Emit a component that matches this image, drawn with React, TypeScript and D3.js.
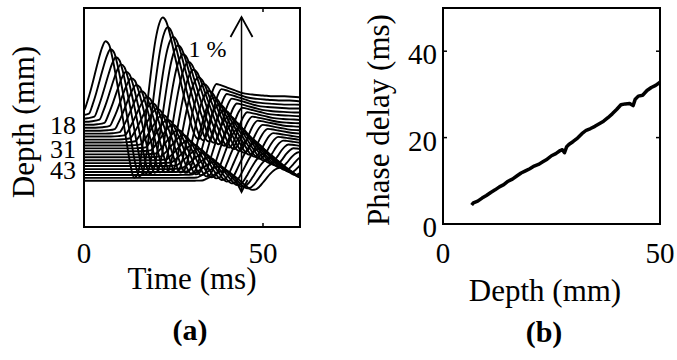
import * as d3 from 'd3';

// panel (a): template wave (top trace), time in ms, strain in %
const templateTime = [-40, -4, -2, 0, 1, 2, 3, 4, 5, 6, 7, 8, 9, 10, 11, 12, 13, 14, 15, 16, 17, 18, 19, 20,
  21, 22, 23, 24, 25, 26, 27, 28, 29, 30, 31, 32, 33, 34, 35, 36, 37, 38, 40, 42, 44, 47, 50, 53, 56, 60, 64, 70];
const templateStrain = [0, 0, 0.004, 0.015, 0.07, 0.14, 0.22, 0.30, 0.37, 0.41, 0.39, 0.31, 0.20, 0.08,
  -0.05, -0.18, -0.30, -0.37, -0.35, -0.24, -0.07, 0.11, 0.28, 0.42, 0.51, 0.545, 0.52, 0.45, 0.36, 0.27,
  0.18, 0.09, 0.01, -0.07, -0.13, -0.15, -0.11, -0.03, 0.06, 0.13, 0.165, 0.16, 0.145, 0.13, 0.115,
  0.105, 0.10, 0.095, 0.095, 0.09, 0.09, 0.09];

// one entry per trace
const traceDepth = [11.3, 13.0, 14.6, 16.2, 17.9, 19.5, 21.2, 22.8, 24.4, 26.1, 27.7, 29.4, 31.0, 32.6,
  34.3, 35.9, 37.6, 39.2, 40.8, 42.5, 44.1, 45.8, 47.4, 49.0];
const traceShift = [0, 1.4, 2.9, 4.3, 5.7, 7.2, 8.6, 10.0, 11.5, 12.9, 14.3, 15.8, 17.2, 18.6, 20.1, 21.5,
  22.9, 24.4, 25.8, 27.2, 28.7, 30.1, 31.5, 33.0];
const traceGain = [1.00, 0.93, 0.86, 0.80, 0.74, 0.69, 0.64, 0.59, 0.55, 0.51, 0.47, 0.43, 0.40, 0.37,
  0.34, 0.31, 0.28, 0.26, 0.24, 0.22, 0.20, 0.18, 0.16, 0.14];

const timeTicks = [0, 50];
const depthTicksA = [18, 31, 43];

// panel (b): phase delay vs depth
const depthB = [6.6, 7, 8, 9, 10, 11, 12, 13, 14, 15, 16, 17, 18, 19, 20, 21, 22, 23, 24, 25, 26, 27,
  27.5, 28, 28.5, 29, 30, 31, 32, 33, 34, 35, 36, 37, 38, 39, 40, 41, 42, 43, 43.8, 44.3, 45, 46, 47, 48, 49, 50];
const delayB = [4.4, 4.9, 5.3, 6.0, 6.6, 7.3, 7.9, 8.6, 9.1, 9.9, 10.4, 11.1, 11.8, 12.3, 12.8, 13.4,
  13.8, 14.4, 15.0, 15.8, 16.3, 17.0, 17.2, 16.5, 17.9, 18.4, 19.1, 19.9, 20.9, 21.7, 22.1, 22.6, 23.2,
  23.8, 24.6, 25.5, 26.5, 27.6, 27.8, 27.9, 27.4, 28.9, 29.6, 29.8, 30.9, 31.6, 32.1, 32.8];
const depthTicksB = [0, 50];
const delayTicksB = [0, 20, 40];

const FONT = '"Liberation Serif", "Times New Roman", serif';

export default function App() {
  const W = 677, H = 360;

  // panel (a)
  const a = { left: 84, right: 300, top: 8, bottom: 227 };
  const xTime = d3.scaleLinear().domain([0, 50]).range([84, 263]);
  const yDepth = d3.scaleLinear().domain([18, 43]).range([125, 170]);
  const strainPx = d3.scaleLinear().domain([0, 1]).range([0, 175]);

  const traceLine = d3.line<[number, number]>()
    .x(d => xTime(d[0]))
    .y(d => d[1])
    .curve(d3.curveMonotoneX);

  const traces = traceDepth.map((z, i) => {
    const base = yDepth(z);
    const pts: [number, number][] = templateTime.map((t, k) => [
      t + traceShift[i],
      base - strainPx(templateStrain[k] * traceGain[i]),
    ]);
    return traceLine(pts);
  });

  const arrowT = 44;
  const arrowTop = 17, arrowBot = 192;

  // panel (b)
  const b = { left: 443, right: 660, top: 8, bottom: 224 };
  const xD = d3.scaleLinear().domain([0, 50]).range([b.left, b.right]);
  const yP = d3.scaleLinear().domain([0, 50]).range([b.bottom, b.top]);
  const delayLine = d3.line<number>()
    .x((_, i) => xD(depthB[i]))
    .y(d => yP(d));

  return (
    <svg width={W} height={H} style={{ position: 'absolute', left: 0, top: 0, background: '#fff' }}
      fontFamily={FONT}>
      <defs>
        <clipPath id="clipA">
          <rect x={a.left} y={a.top} width={a.right - a.left} height={a.bottom - a.top} />
        </clipPath>
      </defs>

      {/* panel (a) */}
      <g clipPath="url(#clipA)">
        {traces.map((d, i) => (
          <path key={i} d={d || ''} fill="none" stroke="#000" strokeWidth={1.9} strokeLinejoin="round" />
        ))}
      </g>
      <rect x={a.left} y={a.top} width={a.right - a.left} height={a.bottom - a.top}
        fill="none" stroke="#000" strokeWidth={2} />
      {timeTicks.map(t => (
        <g key={t}>
          <line x1={xTime(t)} x2={xTime(t)} y1={a.bottom} y2={a.bottom - 4} stroke="#000" strokeWidth={1.5} />
          <line x1={xTime(t)} x2={xTime(t)} y1={a.top} y2={a.top + 4} stroke="#000" strokeWidth={1.5} />
          <text x={xTime(t)} y={263} textAnchor="middle" fontSize={29}>{t}</text>
        </g>
      ))}
      {depthTicksA.map(z => (
        <text key={z} x={76} y={yDepth(z)} dy="0.35em" textAnchor="end" fontSize={26}>{z}</text>
      ))}
      <text transform={`translate(34,122) rotate(-90)`} textAnchor="middle" fontSize={31}>Depth (mm)</text>
      <text x={192} y={289} textAnchor="middle" fontSize={31}>Time (ms)</text>
      <text x={190} y={340} textAnchor="middle" fontSize={30} fontWeight="bold">(a)</text>

      {/* scale arrow */}
      <line x1={xTime(arrowT)} x2={xTime(arrowT)} y1={arrowBot} y2={arrowTop} stroke="#000" strokeWidth={1.5} />
      <polyline points={`${xTime(arrowT) - 11},${arrowTop + 20} ${xTime(arrowT)},${arrowTop} ${xTime(arrowT) + 11},${arrowTop + 20}`}
        fill="none" stroke="#000" strokeWidth={1.8} />
      <polyline points={`${xTime(arrowT) - 6},${arrowBot - 12} ${xTime(arrowT)},${arrowBot} ${xTime(arrowT) + 6},${arrowBot - 12}`}
        fill="none" stroke="#000" strokeWidth={1.8} />
      <text x={xTime(arrowT) - 15} y={57} textAnchor="end" fontSize={24}>1 %</text>

      {/* panel (b) */}
      <path d={delayLine(delayB) || ''} fill="none" stroke="#000" strokeWidth={3.5} strokeLinejoin="round" />
      <rect x={b.left} y={b.top} width={b.right - b.left} height={b.bottom - b.top}
        fill="none" stroke="#000" strokeWidth={2} />
      {delayTicksB.map(v => (
        <g key={v}>
          <line x1={b.left} x2={b.left + 4} y1={yP(v)} y2={yP(v)} stroke="#000" strokeWidth={1.5} />
          <line x1={b.right} x2={b.right - 4} y1={yP(v)} y2={yP(v)} stroke="#000" strokeWidth={1.5} />
          <text x={437} y={yP(v) + 3} dy="0.35em" textAnchor="end" fontSize={29}>{v}</text>
        </g>
      ))}
      {depthTicksB.map(v => (
        <text key={v} x={xD(v)} y={263} textAnchor="middle" fontSize={29}>{v}</text>
      ))}
      <text transform={`translate(389,120) rotate(-90)`} textAnchor="middle" fontSize={31}>Phase delay (ms)</text>
      <text x={545} y={301} textAnchor="middle" fontSize={31}>Depth (mm)</text>
      <text x={544} y={342} textAnchor="middle" fontSize={30} fontWeight="bold">(b)</text>
    </svg>
  );
}
